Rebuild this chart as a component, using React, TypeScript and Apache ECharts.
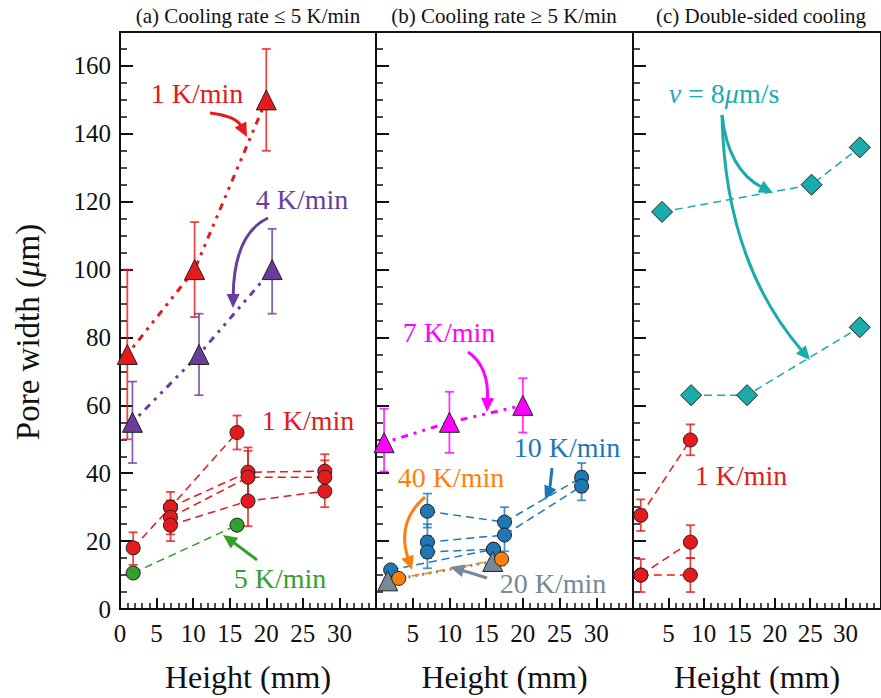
import React, { useEffect, useRef } from "react";
import * as echarts from "echarts";

// ---------- data (x = height in mm, y = pore width in µm) ----------
// Panel (a)
const tri1K = [[1, 75], [10.2, 100], [20, 150]];
const tri1KErr = [[1, 50, 100], [10.2, 86, 114], [20, 135, 165]];
const tri4K = [[1.7, 55], [10.8, 75], [20.8, 100]];
const tri4KErr = [[1.7, 43, 67], [10.8, 63, 87], [20.8, 87, 112]];
const circ1KA = [[1.8, 18], [6.9, 30], [16, 52]];
const circ1KB = [[6.9, 30], [17.5, 40.3], [28, 40.6]];
const circ1KC = [[6.9, 27], [17.5, 38.8], [28, 38.8]];
const circ1KD = [[6.9, 24.7], [17.5, 31.8], [28, 34.7]];
const circ1KErr = [
  [1.8, 13, 22.6], [6.9, 25, 34.5], [6.9, 22, 32], [6.9, 20, 29.5], [16, 47, 57],
  [17.5, 33, 47.6], [17.5, 31, 46.6], [17.5, 24.4, 39], [28, 35.6, 45.6], [28, 33.8, 43.8], [28, 30, 39.7],
];
const circ5K = [[1.8, 10.6], [16, 24.7]];

// Panel (b)
const tri7K = [[1.1, 49], [10, 55], [20, 60]];
const tri7KErr = [[1.1, 40.5, 59], [10, 46, 64], [20, 52, 68]];
const circ10KE = [[7, 28.8], [17.5, 25.6], [28, 38.8]];
const circ10KF = [[7, 19.7], [17.5, 21.8], [28, 36.2]];
const circ10KG = [[7, 16.8], [16, 17.6]];
const circ10KH = [[2, 11.5], [16, 17.6]];
const circ10KErr = [
  [7, 24, 34], [7, 15, 25], [7, 12, 21.5], [17.5, 21, 30], [17.5, 17, 26.5], [28, 34.5, 43], [28, 32, 40.5],
];
const tri20K = [[1.6, 8.3], [15.9, 14]];
const circ40K = [[3.1, 9], [17.1, 14.7]];

// Panel (c)
const diaUpper = [[4.1, 117], [25.2, 125], [32, 136]];
const diaLower = [[8.2, 63], [16.1, 63], [32, 83]];
const circ1KcI = [[1.1, 27.6], [8.1, 49.8]];
const circ1KcJ = [[1.1, 10], [8.1, 19.7]];
const circ1KcK = [[1.1, 10], [8.1, 10]];
const circ1KcErr = [[1.1, 23, 32.3], [8.1, 45.3, 54.4], [1.1, 5, 14.7], [8.1, 15, 24.7], [8.1, 5, 15]];

const panelTitles = ["(a) Cooling rate ≤ 5 K/min", "(b) Cooling rate ≥ 5 K/min", "(c) Double-sided cooling"];

// ---------- styling ----------
const FONT = "Liberation Serif";
const RED = "#e41a1c";
const PURPLE = "#6a3d9a";
const GREEN = "#33a02c";
const MAGENTA = "#ff00ff";
const BLUE = "#1f77b4";
const ORANGE = "#ff7f0e";
const GRAY = "#778899";
const TEAL = "#1aabab";
const INK = "#111";

const DASHDOT = [3, 6, 3, 6, 7, 6];

function lineSeries(data: number[][], idx: number, color: string, symbol: string, size: number, lineType: any, width: number) {
  return {
    type: "line",
    xAxisIndex: idx,
    yAxisIndex: idx,
    data,
    symbol,
    symbolSize: size,
    showSymbol: true,
    silent: true,
    z: 3,
    itemStyle: { color, borderColor: "#222", borderWidth: 1 },
    lineStyle: { color, width, type: lineType },
    emphasis: { disabled: true },
  };
}

function errSeries(data: number[][], idx: number, color: string) {
  return {
    type: "custom",
    xAxisIndex: idx,
    yAxisIndex: idx,
    data,
    silent: true,
    z: 2,
    encode: { x: 0, y: [1, 2] },
    renderItem: (_p: any, api: any) => {
      const x = api.value(0);
      const a = api.coord([x, api.value(1)]);
      const b = api.coord([x, api.value(2)]);
      const w = 4.5;
      const st = { stroke: color, lineWidth: 1.8, opacity: 0.8 };
      return {
        type: "group",
        children: [
          { type: "line", shape: { x1: a[0], y1: a[1], x2: b[0], y2: b[1] }, style: st },
          { type: "line", shape: { x1: a[0] - w, y1: a[1], x2: a[0] + w, y2: a[1] }, style: st },
          { type: "line", shape: { x1: b[0] - w, y1: b[1], x2: b[0] + w, y2: b[1] }, style: st },
        ],
      };
    },
  };
}

function arrow(x1: number, y1: number, cx: number, cy: number, x2: number, y2: number, color: string, lw = 3) {
  const ang = Math.atan2(y2 - cy, x2 - cx);
  const L = 14;
  const W = 6.5;
  const bx = x2 - L * Math.cos(ang);
  const by = y2 - L * Math.sin(ang);
  const nx = -Math.sin(ang);
  const ny = Math.cos(ang);
  return [
    {
      type: "bezierCurve",
      z: 50,
      silent: true,
      shape: { x1, y1, x2: bx + Math.cos(ang) * 2, y2: by + Math.sin(ang) * 2, cpx1: cx, cpy1: cy },
      style: { stroke: color, lineWidth: lw, fill: null },
    },
    {
      type: "polygon",
      z: 50,
      silent: true,
      shape: { points: [[x2, y2], [bx + nx * W, by + ny * W], [bx - nx * W, by - ny * W]] },
      style: { fill: color },
    },
  ];
}

function label(text: string, x: number, y: number, color: string, size = 28) {
  return {
    type: "text",
    z: 50,
    silent: true,
    x,
    y,
    style: {
      text,
      fill: color,
      fontFamily: FONT,
      fontSize: size,
      align: "center",
      verticalAlign: "middle",
    },
  };
}

const GRID_TOP = 32;
const GRID_H = 578;
const grids = [
  { left: 120, width: 256 },
  { left: 376, width: 257 },
  { left: 633, width: 257 },
];

export default function App() {
  const ref = useRef<HTMLDivElement>(null);
  useEffect(() => {
    if (!ref.current) return;
    const chart = echarts.init(ref.current, null, { renderer: "svg" });

    const xAxes = grids.map((_, i) => ({
      type: "value",
      gridIndex: i,
      min: 0,
      max: 35,
      interval: 5,
      position: "bottom",
      axisLine: { show: true, lineStyle: { color: INK, width: 2 } },
      axisTick: { show: true, inside: true, length: 11, lineStyle: { color: INK, width: 2 } },
      minorTick: { show: true, splitNumber: 5, length: 6, lineStyle: { color: INK, width: 1.5 } },
      splitLine: { show: false },
      axisLabel: {
        show: true,
        margin: 12,
        color: INK,
        fontFamily: FONT,
        fontSize: 25,
        showMinLabel: i === 0,
        showMaxLabel: false,
      },
      name: "Height (mm)",
      nameLocation: "middle",
      nameGap: 52,
      nameTextStyle: { color: INK, fontFamily: FONT, fontSize: 32 },
    }));

    const yAxes = grids.map((_, i) => ({
      type: "value",
      gridIndex: i,
      min: 0,
      max: 170,
      interval: 20,
      axisLine: { show: true, lineStyle: { color: INK, width: 2 } },
      axisTick: { show: true, inside: true, length: 13, lineStyle: { color: INK, width: 2 } },
      minorTick: { show: true, splitNumber: 4, length: 7, lineStyle: { color: INK, width: 1.5 } },
      splitLine: { show: false },
      axisLabel: {
        show: i === 0,
        margin: 9,
        color: INK,
        fontFamily: FONT,
        fontSize: 25,
        showMaxLabel: false,
      },
    }));

    const series: any[] = [
      // panel a
      errSeries(tri1KErr, 0, RED),
      errSeries(tri4KErr, 0, PURPLE),
      errSeries(circ1KErr, 0, RED),
      lineSeries(tri1K, 0, RED, "triangle", 20, DASHDOT, 3),
      lineSeries(tri4K, 0, PURPLE, "triangle", 20, DASHDOT, 3),
      lineSeries(circ1KA, 0, RED, "circle", 14, [8, 5], 1.5),
      lineSeries(circ1KB, 0, RED, "circle", 14, [8, 5], 1.5),
      lineSeries(circ1KC, 0, RED, "circle", 14, [8, 5], 1.5),
      lineSeries(circ1KD, 0, RED, "circle", 14, [8, 5], 1.5),
      lineSeries(circ5K, 0, GREEN, "circle", 14, [8, 5], 1.5),
      // panel b
      errSeries(tri7KErr, 1, MAGENTA),
      errSeries(circ10KErr, 1, BLUE),
      lineSeries(tri7K, 1, MAGENTA, "triangle", 20, DASHDOT, 3),
      lineSeries(circ10KH, 1, BLUE, "circle", 14, [8, 5], 1.5),
      lineSeries(circ10KE, 1, BLUE, "circle", 14, [8, 5], 1.5),
      lineSeries(circ10KF, 1, BLUE, "circle", 14, [8, 5], 1.5),
      lineSeries(circ10KG, 1, BLUE, "circle", 14, [8, 5], 1.5),
      lineSeries(tri20K, 1, GRAY, "triangle", 20, [2, 5], 3),
      lineSeries(circ40K, 1, ORANGE, "circle", 14, [8, 5], 1.5),
      // panel c
      errSeries(circ1KcErr, 2, RED),
      lineSeries(diaUpper, 2, TEAL, "diamond", 21, [8, 5], 1.5),
      lineSeries(diaLower, 2, TEAL, "diamond", 21, [8, 5], 1.5),
      lineSeries(circ1KcI, 2, RED, "circle", 14, [8, 5], 1.5),
      lineSeries(circ1KcJ, 2, RED, "circle", 14, [8, 5], 1.5),
      lineSeries(circ1KcK, 2, RED, "circle", 14, [8, 5], 1.5),
    ];

    const titleCenters = [248, 504, 761];
    const graphic: any[] = [
      ...panelTitles.map((t, i) => label(t, titleCenters[i], 16, INK, 21)),
      {
        type: "text",
        z: 50,
        silent: true,
        x: 28,
        y: 332,
        rotation: Math.PI / 2,
        style: {
          text: "{a|Pore width (}{b|μ}{a|m)}",
          align: "center",
          verticalAlign: "middle",
          rich: {
            a: { fontFamily: FONT, fontSize: 33, fill: INK, color: INK },
            b: { fontFamily: FONT, fontSize: 33, fontStyle: "italic", fill: INK, color: INK },
          },
        },
      },
      // panel a annotations
      label("1 K/min", 197, 93, RED),
      ...arrow(210, 113, 236, 116, 247, 137, RED),
      label("4 K/min", 302, 199, PURPLE),
      ...arrow(268, 218, 234, 234, 233, 308, PURPLE),
      label("1 K/min", 308, 420, RED),
      label("5 K/min", 280, 578, GREEN),
      ...arrow(257, 560, 240, 547, 223, 535, GREEN),
      // panel b annotations
      label("7 K/min", 449, 332, MAGENTA),
      ...arrow(468, 352, 489, 366, 487, 412, MAGENTA),
      label("10 K/min", 567, 447, BLUE),
      ...arrow(552, 468, 550, 488, 545, 500, BLUE),
      label("40 K/min", 451, 477, ORANGE),
      ...arrow(425, 497, 396, 522, 412, 570, ORANGE),
      label("20 K/min", 553, 583, GRAY),
      ...arrow(487, 578, 468, 572, 450, 567, GRAY),
      // panel c annotations
      {
        type: "text",
        z: 50,
        silent: true,
        x: 724,
        y: 93,
        style: {
          text: "{i|v}{a| = 8}{i|μ}{a|m/s}",
          align: "center",
          verticalAlign: "middle",
          rich: {
            a: { fontFamily: FONT, fontSize: 28, fill: TEAL, color: TEAL },
            i: { fontFamily: FONT, fontSize: 28, fontStyle: "italic", fill: TEAL, color: TEAL },
          },
        },
      },
      ...arrow(722, 115, 728, 170, 773, 193, TEAL),
      ...arrow(722, 115, 725, 262, 810, 360, TEAL),
      label("1 K/min", 741, 475, RED),
    ];

    chart.setOption({
      animation: false,
      backgroundColor: "#fff",
      grid: grids.map((g) => ({
        left: g.left,
        width: g.width,
        top: GRID_TOP,
        height: GRID_H,
        show: true,
        borderColor: INK,
        borderWidth: 2,
        backgroundColor: "transparent",
      })),
      xAxis: xAxes,
      yAxis: yAxes,
      series,
      graphic,
    });
    return () => chart.dispose();
  }, []);

  return <div ref={ref} style={{ position: "absolute", left: 0, top: 0, width: 881, height: 698 }} />;
}
